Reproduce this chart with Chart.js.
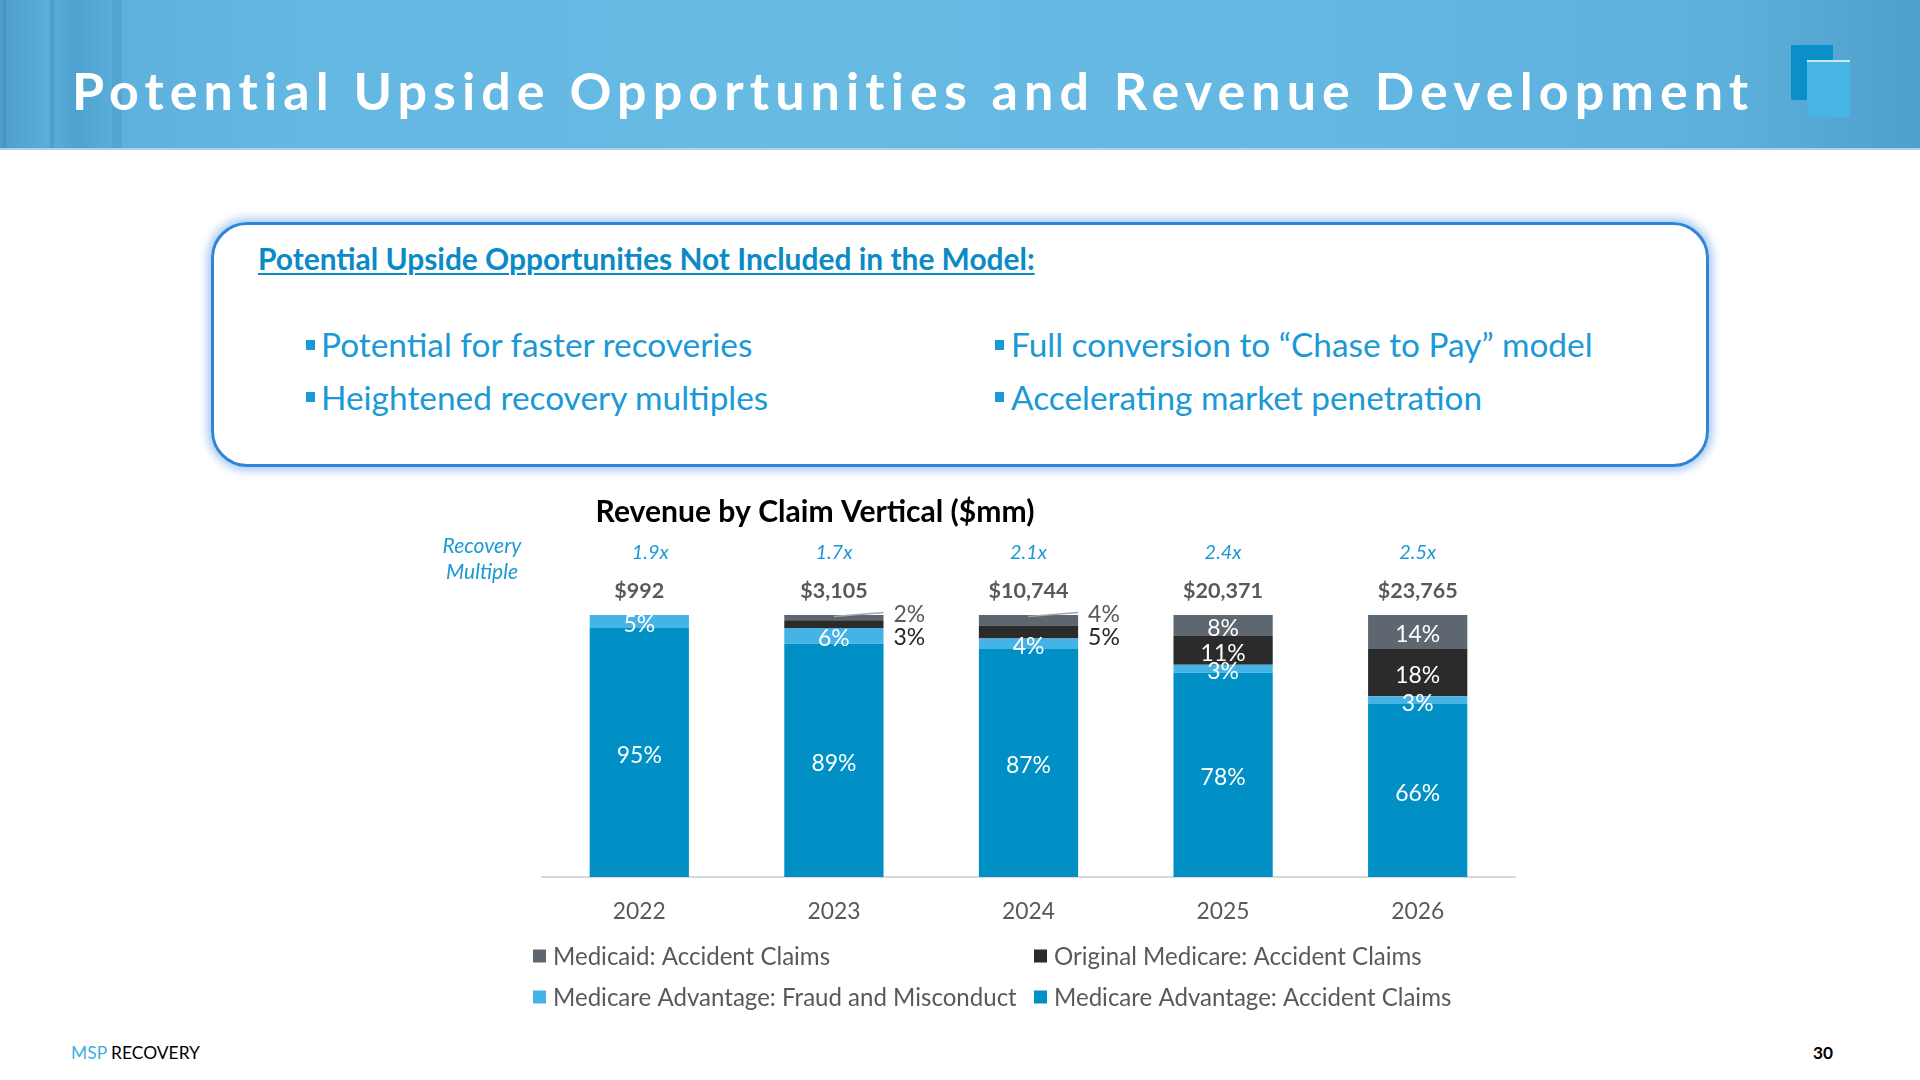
<!DOCTYPE html>
<html lang="en"><head><meta charset="utf-8">
<title>Potential Upside Opportunities and Revenue Development</title>
<script src="https://cdn.jsdelivr.net/npm/chart.js@4.4.1/dist/chart.umd.min.js"></script>
<style>
*{box-sizing:border-box;}
html,body{margin:0;padding:0;}
body{width:1920px;height:1080px;position:relative;overflow:hidden;background:#fff;font-family:Lato,"Open Sans",sans-serif;}
#header{position:absolute;left:0;top:0;width:1920px;height:150px;background:linear-gradient(90deg,#4d9dca 0%,#5aaeda 2.5%,#4fa2cf 4%,#5db1dc 6.5%,#63b7e1 15%,#67bbe3 40%,#63b7e1 70%,#5cb0dc 90%,#4f9fcc 100%);border-bottom:2px solid #a8d5ec;}
.stripe{position:absolute;top:0;height:148px;background:rgba(40,110,160,0.22);}
#htitle{position:absolute;left:72px;top:64px;white-space:nowrap;color:#fff;font-weight:700;font-size:52px;line-height:1;}
.logo1{position:absolute;left:1791px;top:45px;width:42px;height:55px;background:#0a8fc9;}
.logo2{position:absolute;left:1807px;top:60px;width:43px;height:57px;background:#46b5e6;border-top:2px solid #c8e8f7;}
#box{position:absolute;left:211px;top:222px;width:1498px;height:245px;border:3px solid #2f86d6;border-radius:36px;box-shadow:0 0 9px 4px rgba(120,170,240,0.6);}
.txt{position:absolute;white-space:nowrap;line-height:1;}
#heading{color:#0b8ac6;font-weight:700;text-decoration:underline;text-decoration-thickness:2px;text-underline-offset:3px;}
.bul{color:#1b99d6;}
.sq{position:absolute;width:9px;height:10px;background:#1b99d6;}
#chartWrap{position:absolute;left:400px;top:470px;width:1200px;height:580px;}
#foot1{color:#000;}
#foot1 span{color:#3ab0e2;}
#foot2{font-weight:700;color:#000;}
</style></head>
<body>
<div id="header">
  <div class="stripe" style="left:3px;width:3px;"></div>
  <div class="stripe" style="left:50px;width:4px;"></div>
  <div class="stripe" style="left:112px;width:10px;background:rgba(40,110,160,0.15);"></div>
  <div id="htitle">Potential Upside Opportunities and Revenue Development</div>
  <div class="logo1"></div>
  <div class="logo2"></div>
</div>

<div id="box"></div>
<div class="txt" id="heading">Potential Upside Opportunities Not Included in the Model:</div>
<div class="sq" style="left:306px;top:340px;"></div>
<div class="sq" style="left:306px;top:392px;"></div>
<div class="sq" style="left:995px;top:340px;"></div>
<div class="sq" style="left:995px;top:392px;"></div>
<div class="txt bul" id="b1">Potential for faster recoveries</div>
<div class="txt bul" id="b2">Heightened recovery multiples</div>
<div class="txt bul" id="b3">Full conversion to “Chase to Pay” model</div>
<div class="txt bul" id="b4">Accelerating market penetration</div>

<div id="chartWrap"><canvas id="c" width="1200" height="580"></canvas></div>

<div class="txt" id="foot1"><span>MSP</span> RECOVERY</div>
<div class="txt" id="foot2">30</div>

<script>
// ---------------- DATA ----------------
const years = ['2022', '2023', '2024', '2025', '2026'];
const maAccidentClaims = [95, 89, 87, 78, 66];
const maFraudMisconduct = [5, 6, 4, 3, 3];
const originalMedicareAccident = [0, 3, 5, 11, 18];
const medicaidAccident = [0, 2, 4, 8, 14];
const totalRevenue = [992, 3105, 10744, 20371, 23765];
const recoveryMultiples = [1.9, 1.7, 2.1, 2.4, 2.5];
const seriesNames = [
  'Medicare Advantage: Accident Claims',
  'Medicare Advantage: Fraud and Misconduct',
  'Original Medicare: Accident Claims',
  'Medicaid: Accident Claims'
];
const chartTitle = 'Revenue by Claim Vertical ($mm)';

// ---------------- HTML text fitting ----------------
const FAM = 'Lato';
function measureAt100(el){ el.style.fontSize='100px'; return el.getBoundingClientRect().width; }
function placeEl(el, fs, left, baseline){
  el.style.fontSize = fs+'px';
  el.style.left = left+'px';
  el.style.top = (baseline - 0.887*fs)+'px';
}
// header title letter-spacing
(function(){
  const t = document.getElementById('htitle');
  const w0 = t.getBoundingClientRect().width;
  const n = t.textContent.length;
  t.style.letterSpacing = ((1678 - w0)/(n-1))+'px';
})();
(function(){
  const h = document.getElementById('heading');
  const fs = 100*777/measureAt100(h);
  placeEl(h, fs, 258, 271);
  const ids=['b1','b2','b3','b4'], targets=[431,448,582,471], lefts=[321,321,1011,1011], bases=[358,411,358,411];
  let r=0; ids.forEach((id,i)=>{ r += targets[i]/measureAt100(document.getElementById(id)); });
  const bfs = 100*r/ids.length;
  ids.forEach((id,i)=>placeEl(document.getElementById(id), bfs, lefts[i], bases[i]));
  const f1=document.getElementById('foot1'); placeEl(f1, 100*129/measureAt100(f1), 71, 1059);
  const f2=document.getElementById('foot2'); placeEl(f2, 100*20/measureAt100(f2), 1813, 1059);
})();

// ---------------- Canvas font fitting ----------------
const mctx = document.createElement('canvas').getContext('2d');
function fit(text, weight, style, target){
  mctx.font = `${style} ${weight} 100px ${FAM}`;
  return 100*target/mctx.measureText(text).width;
}
const F = {
  title: fit(chartTitle, 'bold', 'normal', 439),
  recov: fit('Recovery', 'normal', 'italic', 79),
  mult: fit('1.9x', 'normal', 'italic', 37),
  total: fit('$10,744', 'bold', 'normal', 80),
  seg: fit('95%', 'normal', 'normal', 45),
  tick: fit('2026', 'normal', 'normal', 53),
  legend: fit(seriesNames[1], 'normal', 'normal', 464)
};

const colors = ['#0090c6', '#45b3e5', '#2b2b2b', '#5e6670'];
const outsideColors = {2:'#262626', 3:'#595959'};
const OX = 400, OY = 470; // canvas offset on page
const multipleNudge = [11, 0, 0, 0, 0];
const SEG_DY = 3; // optical centring of percentage labels

const annot = {
  id: 'annot',
  afterDraw(chart){
    const ctx = chart.ctx, ca = chart.chartArea;
    const bars = chart.getDatasetMeta(0).data;
    ctx.save();
    // chart title
    ctx.textAlign='center'; ctx.textBaseline='middle';
    ctx.fillStyle='#000'; ctx.font=`bold ${F.title}px ${FAM}`;
    ctx.fillText(chartTitle, 815-OX, 512-OY);
    // Recovery Multiple label
    ctx.fillStyle='#1b99d6'; ctx.font=`italic ${F.recov}px ${FAM}`;
    ctx.fillText('Recovery', 482-OX, 546-OY);
    ctx.fillText('Multiple', 482-OX, 572-OY);
    // multiples and totals
    bars.forEach((b,j)=>{
      ctx.fillStyle='#1b99d6'; ctx.font=`italic ${F.mult}px ${FAM}`;
      ctx.fillText(recoveryMultiples[j].toFixed(1)+'x', b.x+multipleNudge[j], 553-OY);
      ctx.fillStyle='#595959'; ctx.font=`bold ${F.total}px ${FAM}`;
      ctx.fillText('$'+totalRevenue[j].toLocaleString('en-US'), b.x, 591-OY);
    });
    // segment labels
    ctx.font=`${F.seg}px ${FAM}`;
    chart.data.datasets.forEach((ds,i)=>{
      const meta = chart.getDatasetMeta(i);
      meta.data.forEach((el,j)=>{
        const v = ds.data[j];
        if(!v) return;
        const top = Math.max(el.y, ca.top), bottom = el.base;
        if(i>=2 && v<=5){
          const xr = el.x + el.width/2;
          ctx.textAlign='left';
          ctx.fillStyle = outsideColors[i];
          if(i===3){
            ctx.strokeStyle='#a6a6a6'; ctx.lineWidth=1.5;
            ctx.beginPath(); ctx.moveTo(el.x, ca.top+1.5); ctx.lineTo(xr, ca.top-2.5); ctx.stroke();
            ctx.fillText(v+'%', xr+10, ca.top);
          } else {
            ctx.fillText(v+'%', xr+10, ca.top+23);
          }
        } else {
          ctx.textAlign='center';
          ctx.fillStyle='#ffffff';
          ctx.fillText(v+'%', el.x, (top+bottom)/2+SEG_DY);
        }
      });
    });
    // legend (2 x 2, reverse dataset order)
    ctx.font=`${F.legend}px ${FAM}`; ctx.textAlign='left'; ctx.textBaseline='middle';
    const sqX=[533,1034], rowY=[956,997];
    const order=[3,2,1,0];
    order.forEach((di,k)=>{
      const col=k%2, row=Math.floor(k/2);
      const x=sqX[col]-OX, y=rowY[row]-OY;
      ctx.fillStyle=colors[di]; ctx.fillRect(x, y-6.5, 13, 13);
      ctx.fillStyle='#595959'; ctx.fillText(chart.data.datasets[di].label, x+20, y+1);
    });
    ctx.restore();
  }
};

Chart.defaults.font.family = FAM;
const dataSeries = [maAccidentClaims, maFraudMisconduct, originalMedicareAccident, medicaidAccident];
new Chart(document.getElementById('c').getContext('2d'), {
  type:'bar',
  data:{
    labels: years,
    datasets: dataSeries.map((d,i)=>({label:seriesNames[i], data:d, backgroundColor:colors[i], borderWidth:0}))
  },
  options:{
    responsive:false, animation:false,
    layout:{padding:{left:142, right:85, top:145, bottom:113}},
    datasets:{bar:{categoryPercentage:1, barPercentage:0.51}},
    plugins:{legend:{display:false}, tooltip:{enabled:false}, title:{display:false}},
    scales:{
      x:{stacked:true, grid:{display:false, drawTicks:false},
         border:{display:true, color:'#d9d9d9', width:2},
         ticks:{color:'#595959', font:{size:F.tick}, padding:21},
         afterFit(s){ s.height = 60; }},
      y:{stacked:true, display:false, min:0, max:100}
    }
  },
  plugins:[annot]
});
</script>
</body></html>
